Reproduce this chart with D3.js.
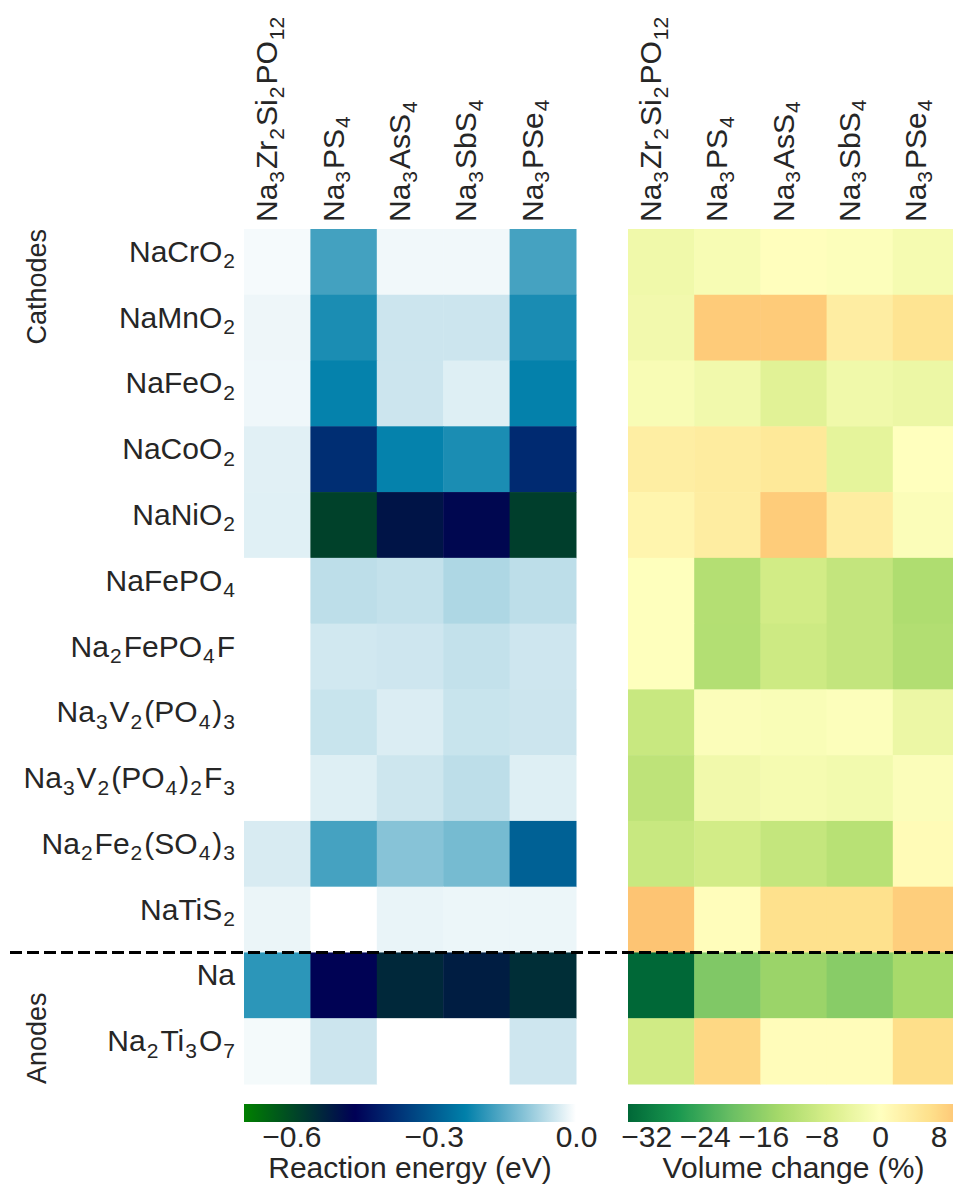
<!DOCTYPE html>
<html>
<head>
<meta charset="utf-8">
<script src="https://cdn.jsdelivr.net/npm/d3@7"></script>
<style>
  html, body { margin: 0; padding: 0; background: #fff; }
  svg { display: block; }
  text { font-family: "Liberation Sans", Arial, sans-serif; fill: #262626; }
</style>
</head>
<body>
<svg id="chart" width="953" height="1192"></svg>
<script>
// Electrode materials (rows) and solid electrolytes (columns)
const electrodes = ["NaCrO2", "NaMnO2", "NaFeO2", "NaCoO2", "NaNiO2", "NaFePO4", "Na2FePO4F",
  "Na3V2(PO4)3", "Na3V2(PO4)2F3", "Na2Fe2(SO4)3", "NaTiS2", "Na", "Na2Ti3O7"];
const electrolytes = ["Na3Zr2Si2PO12", "Na3PS4", "Na3AsS4", "Na3SbS4", "Na3PSe4"];

// Reaction energy (eV), one row per electrode
const reactionEnergy = [
  [-0.009, -0.172, -0.013, -0.013, -0.170],
  [-0.016, -0.209, -0.047, -0.047, -0.210],
  [-0.015, -0.229, -0.047, -0.030, -0.230],
  [-0.027, -0.383, -0.229, -0.209, -0.390],
  [-0.028, -0.585, -0.504, -0.480, -0.580],
  [ 0.000, -0.060, -0.055, -0.074, -0.060],
  [ 0.000, -0.042, -0.045, -0.055, -0.045],
  [ 0.000, -0.050, -0.033, -0.050, -0.047],
  [ 0.000, -0.030, -0.046, -0.060, -0.030],
  [-0.036, -0.170, -0.110, -0.125, -0.290],
  [-0.018,  0.000, -0.020, -0.017, -0.017],
  [-0.193, -0.470, -0.540, -0.520, -0.550],
  [-0.010, -0.047,  0.000,  0.000, -0.045]
];

// Volume change (%), one row per electrode
const volumeChange = [
  [ -2.8,  -1.5,   0.3,  -0.5,  -1.8],
  [ -2.4,   9.8,   9.8,   3.9,   6.0],
  [ -1.3,  -2.5,  -5.5,  -2.8,  -3.4],
  [  3.7,   4.3,   5.0,  -4.8,   0.1],
  [  2.2,   4.0,   9.7,   4.0,  -0.8],
  [ -0.2, -11.9,  -7.9,  -9.9, -12.6],
  [ -0.2, -12.0,  -8.5,  -9.9, -12.2],
  [ -9.2,  -0.7,  -1.0,  -0.5,  -3.4],
  [-10.6,  -2.6,  -1.9,  -2.3,  -0.7],
  [ -9.2,  -7.8,  -9.8, -11.4,   1.0],
  [ 10.8,   0.5,   6.7,   6.7,   9.4],
  [-34.5, -17.9, -15.0, -17.0, -13.6],
  [ -8.1,   8.0,   0.6,   0.6,   7.0]
];

const energyTicks = [-0.6, -0.3, 0.0];
const volumeTicks = [-32, -24, -16, -8, 0, 8];
const groupNames = ["Cathodes", "Anodes"];
const cathodeCount = 11;

// ---- colour maps ----
// "ocean" colormap: green -> navy -> teal -> white
function ocean(t) {
  t = Math.max(0, Math.min(1, t));
  const r = Math.max(0, Math.min(1, 3 * t - 2));
  const g = Math.max(0, Math.min(1, Math.abs((3 * t - 1) / 2)));
  const b = t;
  return d3.rgb(r * 255, g * 255, b * 255).toString();
}
// RdYlGn, linear between its 11 anchor colours
const rdylgnColors = ["#a50026", "#d73027", "#f46d43", "#fdae61", "#fee08b", "#ffffbf",
  "#d9ef8b", "#a6d96a", "#66bd63", "#1a9850", "#006837"];
const rdylgn = d3.scaleLinear()
  .domain(d3.range(11).map(i => i / 10))
  .range(rdylgnColors)
  .interpolate(d3.interpolateRgb)
  .clamp(true);

const eMin = -0.7, eMax = 0.0;
const energyNorm = d3.scaleLinear().domain([eMin, eMax]).range([0, 1]);
const energyColor = v => ocean(energyNorm(v));

// diverging map centred on zero, symmetric around the centre
const vAll = volumeChange.flat();
const vMin = d3.min(vAll), vMax = d3.max(vAll);
const vRange = Math.max(vMax, -vMin);
const volumeColor = v => rdylgn(1 - (v + vRange) / (2 * vRange));

// ---- layout ----
const svg = d3.select("#chart");
const plotTop = 229, plotBottom = 1084;
const fs = 30;        // tick labels and colour-bar titles
const groupFs = 27;   // "Cathodes" / "Anodes"
const subDy = 6.5;
const panels = [
  { x0: 244, width: 332, data: reactionEnergy, color: energyColor,
    domain: [eMin, eMax], ticks: energyTicks, fmt: d3.format(".1f"), title: "Reaction energy (eV)" },
  { x0: 628, width: 331, data: volumeChange, color: volumeColor,
    domain: [vMin, vMax], ticks: volumeTicks, fmt: d3.format("d"), title: "Volume change (%)" }
];

const y = d3.scaleBand().domain(electrodes).range([plotTop, plotBottom]).padding(0);

// chemical formula -> text with subscripted digits
function formula(sel, label) {
  const parts = label.match(/\d+|[^\d]+/g);
  let shifted = false;
  parts.forEach(p => {
    const isSub = /^\d+$/.test(p);
    const t = sel.append("tspan").text(p);
    if (isSub) {
      t.attr("font-size", fs * 0.7).attr("dy", shifted ? 0 : subDy).attr("dx", 1);
      shifted = true;
    } else {
      t.attr("font-size", fs).attr("dy", shifted ? -subDy : 0).attr("dx", shifted ? 2 : 0);
      shifted = false;
    }
  });
}

panels.forEach((p, pi) => {
  const x = d3.scaleBand().domain(electrolytes).range([p.x0, p.x0 + p.width]).padding(0);
  const g = svg.append("g");

  electrodes.forEach((row, ri) => {
    g.selectAll(null)
      .data(p.data[ri].map((v, ci) => ({ v, col: electrolytes[ci] })))
      .join("rect")
      .attr("x", d => x(d.col))
      .attr("y", y(row))
      .attr("width", x.bandwidth() + 0.5)
      .attr("height", y.bandwidth() + 0.5)
      .attr("fill", d => p.color(d.v));
  });

  // column labels, rotated
  const topAxis = svg.append("g")
    .attr("transform", `translate(0,${plotTop})`)
    .call(d3.axisTop(x).tickSize(0).tickPadding(0));
  topAxis.select(".domain").remove();
  topAxis.selectAll(".tick text")
    .text(null)
    .attr("transform", "rotate(-90)")
    .attr("text-anchor", "start")
    .attr("x", 7).attr("y", 0).attr("dy", fs * 0.36)
    .attr("font-size", fs)
    .attr("font-family", null)
    .attr("fill", "#262626")
    .each(function (d) { formula(d3.select(this), d); });

  // colour bar
  const cbY = 1104, cbH = 18;
  const gradId = "grad" + pi;
  const grad = svg.append("defs").append("linearGradient")
    .attr("id", gradId).attr("x1", "0%").attr("x2", "100%");
  const nStops = 128;
  d3.range(nStops + 1).forEach(i => {
    const v = p.domain[0] + (p.domain[1] - p.domain[0]) * i / nStops;
    grad.append("stop").attr("offset", (100 * i / nStops) + "%").attr("stop-color", p.color(v));
  });
  svg.append("rect")
    .attr("x", p.x0).attr("y", cbY).attr("width", p.width).attr("height", cbH)
    .attr("fill", `url(#${gradId})`);

  const cbScale = d3.scaleLinear().domain(p.domain).range([p.x0, p.x0 + p.width]);
  const cbAxis = svg.append("g")
    .attr("transform", `translate(0,${cbY + cbH})`)
    .call(d3.axisBottom(cbScale).tickValues(p.ticks).tickSize(0).tickPadding(4)
      .tickFormat(v => p.fmt(v).replace("-", "\u2212")));
  cbAxis.select(".domain").remove();
  cbAxis.selectAll(".tick text").attr("font-size", fs).attr("font-family", null).attr("fill", "#262626");

  svg.append("text")
    .attr("x", p.x0 + p.width / 2).attr("y", 1178)
    .attr("text-anchor", "middle").attr("font-size", fs)
    .text(p.title);
});

// row labels
const leftAxis = svg.append("g")
  .attr("transform", `translate(${panels[0].x0},0)`)
  .call(d3.axisLeft(y).tickSize(0).tickPadding(9));
leftAxis.select(".domain").remove();
leftAxis.selectAll(".tick text")
  .text(null)
  .attr("dy", fs * 0.36)
  .attr("font-size", fs)
  .attr("font-family", null)
  .attr("fill", "#262626")
  .each(function (d) { formula(d3.select(this), d); });

// group labels
svg.append("text")
  .attr("transform", `translate(46,${plotTop}) rotate(-90)`)
  .attr("text-anchor", "end").attr("font-size", groupFs)
  .text(groupNames[0]);
svg.append("text")
  .attr("transform", `translate(46,${plotBottom}) rotate(-90)`)
  .attr("text-anchor", "start").attr("font-size", groupFs)
  .text(groupNames[1]);

// separator between cathodes and anodes
const sepY = y(electrodes[cathodeCount]);
svg.append("line")
  .attr("x1", 10).attr("x2", 960)
  .attr("y1", sepY).attr("y2", sepY)
  .attr("stroke", "#000").attr("stroke-width", 3)
  .attr("stroke-dasharray", "12,5");
</script>
</body>
</html>
